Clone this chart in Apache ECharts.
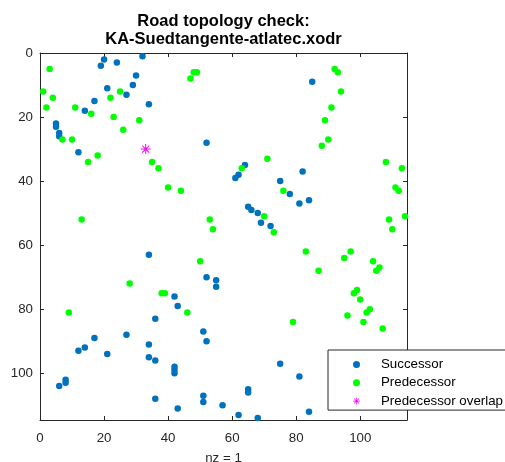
<!DOCTYPE html>
<html>
<head>
<meta charset="utf-8">
<script src="https://cdn.jsdelivr.net/npm/echarts@6/dist/echarts.min.js"></script>
<style>
html,body{margin:0;padding:0;background:#fff;}
#chart{width:505px;height:462px;}
</style>
</head>
<body>
<div id="chart"></div>
<script>
// Successor nonzeros [column, row]
var successorPoints = [
  [20,2],[19,4],[24,3],[32,1],[30,7],[29,10],[21,11],[27,13],[17,15],[14,18],[34,16],
  [5,22],[5,23],[6,25],[6,26],[12,31],[52,28],
  [85,9],[64,35],[61,39],[62,38],[82,37],[75,40],[78,44],[81,47],[84,46],[65,48],[66,49],
  [68,50],[69,53],[72,54],
  [34,63],[52,70],[55,71],[55,73],[42,76],[43,79],[36,83],[51,87],[52,90],[27,88],[17,89],
  [14,92],[12,93],[21,94],[34,91],[34,95],[36,96],[42,98],[42,99],[42,100],[8,102],[8,103],
  [6,104],[36,108],[43,111],[51,107],[51,109],[57,110],
  [75,97],[81,101],[65,105],[65,106],[62,113],[68,114],[84,112]
];
// Predecessor nonzeros [column, row]
var predecessorPoints = [
  [3,5],[1,12],[4,14],[2,17],[11,17],[16,19],[25,12],[22,14],[23,20],[26,24],[31,21],
  [7,27],[10,27],[18,32],[15,34],[35,34],[37,36],[40,42],[44,43],[13,52],[53,52],[54,55],
  [47,8],[48,6],[49,6],
  [92,5],[93,6],[94,12],[91,17],[89,21],[90,27],[88,29],[71,33],[63,36],[76,43],[70,51],
  [73,56],[108,34],[113,36],[111,42],[112,43],[114,51],[109,52],[110,55],
  [50,65],[28,72],[38,75],[39,75],[9,81],[46,81],
  [83,62],[97,62],[95,64],[104,65],[106,67],[105,68],[87,68],[99,74],[98,75],[100,77],
  [103,80],[102,81],[96,82],[101,84],[107,86],[79,84]
];
// Predecessor overlap nonzeros [column, row]
var overlapPoints = [[33,30]];

var seriesNames = ['Successor', 'Predecessor', 'Predecessor overlap'];
var tickValues = [0, 20, 40, 60, 80, 100];
var axisMax = 114.6;
var titleLines = ['Road topology check:', 'KA-Suedtangente-atlatec.xodr'];
var xLabel = 'nz = 1';

var FONT = '"Liberation Sans", Arial, Helvetica, sans-serif';
var AX = '#262626';
var asterisk = 'path://M9,0L11,0L11,20L9,20Z M0,9L20,9L20,11L0,11Z ' +
  'M2.2,3.6L3.6,2.2L17.8,16.4L16.4,17.8Z M16.4,2.2L17.8,3.6L3.6,17.8L2.2,16.4Z';

function tickFmt(v){ return tickValues.indexOf(v) >= 0 ? String(v) : ''; }

function axisBase(extra){
  var a = {
    type: 'value', min: 0, max: axisMax, interval: 20,
    splitLine: {show: false},
    axisLine: {show: true, onZero: false, lineStyle: {color: AX, width: 1}},
    axisTick: {show: true, inside: true, length: 4, lineStyle: {color: AX, width: 1}},
    axisLabel: {show: true, color: AX, fontSize: 13.3, fontFamily: FONT, formatter: tickFmt, showMaxLabel: false}
  };
  for (var k in extra) a[k] = extra[k];
  return a;
}

var chart = echarts.init(document.getElementById('chart'), null, {renderer: 'canvas'});
chart.setOption({
  animation: false,
  backgroundColor: '#ffffff',
  title: {
    text: titleLines.join('\n'),
    left: 223.5, top: 12, padding: 0, textAlign: 'center',
    textStyle: {fontSize: 16.5, fontWeight: 'bold', color: '#000', fontFamily: FONT, lineHeight: 18}
  },
  grid: {left: 40, top: 53, right: 98, bottom: 42, containLabel: false, outerBoundsMode: 'none'},
  xAxis: [
    axisBase({position: 'bottom', name: xLabel, nameLocation: 'middle', nameGap: 32,
      nameTextStyle: {color: AX, fontSize: 13.3, fontFamily: FONT},
      axisLabel: {show: true, color: AX, fontSize: 13.3, fontFamily: FONT, formatter: tickFmt, showMaxLabel: false, margin: 12}}),
    axisBase({position: 'top', axisLabel: {show: false}})
  ],
  yAxis: [
    axisBase({position: 'left', inverse: true,
      axisLabel: {show: true, color: AX, fontSize: 13.3, fontFamily: FONT, formatter: tickFmt, showMaxLabel: false, margin: 7}}),
    axisBase({position: 'right', inverse: true, axisLabel: {show: false}})
  ],
  legend: {
    orient: 'vertical', left: 328, top: 350,
    padding: [7.5, 12, 2, 25], itemGap: 4.3, itemWidth: 39, itemHeight: 7,
    backgroundColor: '#ffffff', borderColor: AX, borderWidth: 1, borderRadius: 0,
    textStyle: {color: '#000', fontSize: 13.3, fontFamily: FONT, lineHeight: 14},
    data: seriesNames
  },
  series: [
    {name: seriesNames[0], type: 'scatter', data: successorPoints, symbol: 'circle', symbolSize: 6.5,
     itemStyle: {color: '#0072BD', opacity: 1}, clip: false},
    {name: seriesNames[1], type: 'scatter', data: predecessorPoints, symbol: 'circle', symbolSize: 6.5,
     itemStyle: {color: '#00FF00', opacity: 1}, clip: false},
    {name: seriesNames[2], type: 'scatter', data: overlapPoints, symbol: asterisk, symbolSize: 10,
     itemStyle: {color: '#FF00FF', opacity: 1}, clip: false}
  ]
});
</script>
</body>
</html>
